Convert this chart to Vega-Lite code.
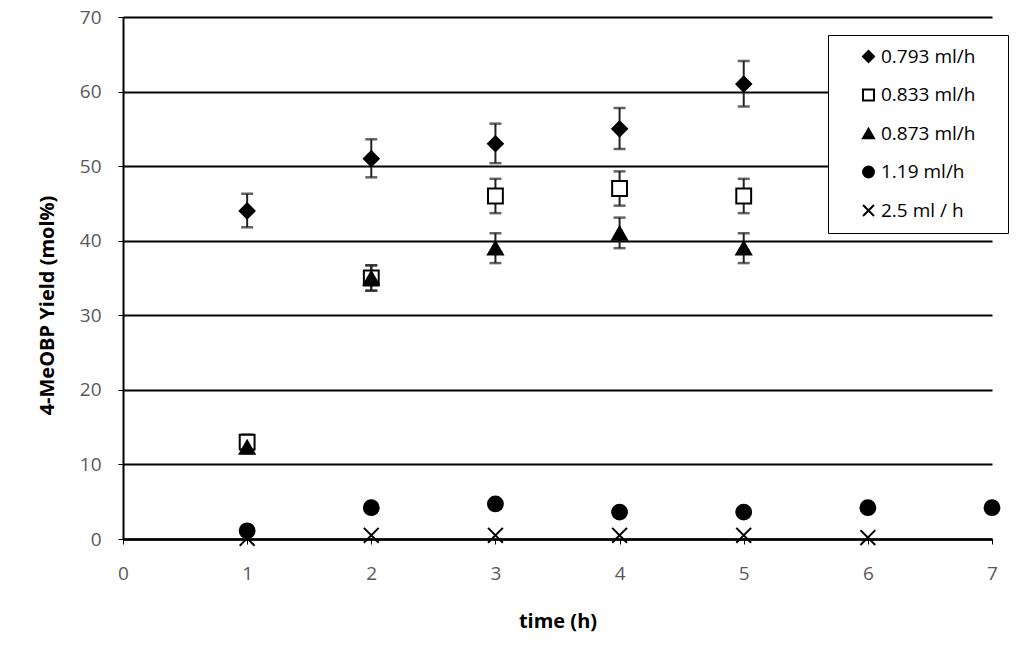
{
  "$schema": "https://vega.github.io/schema/vega-lite/v6.json",
  "autosize": {"type": "none"},
  "width": 869,
  "height": 522,
  "padding": {"left": 123, "top": 17, "right": 32, "bottom": 128},
  "background": "white",
  "config": {
    "view": {"stroke": null},
    "font": "Open Sans",
    "axis": {"labelFont": "Open Sans", "titleFont": "Open Sans"}
  },
  "data": {
    "values": [
      {"series": "0.793 ml/h", "t": 1, "y": 44, "lo": 41.8, "hi": 46.3},
      {"series": "0.793 ml/h", "t": 2, "y": 51, "lo": 48.5, "hi": 53.6},
      {"series": "0.793 ml/h", "t": 3, "y": 53, "lo": 50.4, "hi": 55.7},
      {"series": "0.793 ml/h", "t": 4, "y": 55, "lo": 52.3, "hi": 57.8},
      {"series": "0.793 ml/h", "t": 5, "y": 61, "lo": 58.0, "hi": 64.1},
      {"series": "0.833 ml/h", "t": 1, "y": 13, "lo": 12.0, "hi": 14.0},
      {"series": "0.833 ml/h", "t": 2, "y": 35, "lo": 33.3, "hi": 36.7},
      {"series": "0.833 ml/h", "t": 3, "y": 46, "lo": 43.7, "hi": 48.3},
      {"series": "0.833 ml/h", "t": 4, "y": 47, "lo": 44.7, "hi": 49.3},
      {"series": "0.833 ml/h", "t": 5, "y": 46, "lo": 43.7, "hi": 48.3},
      {"series": "0.873 ml/h", "t": 1, "y": 12.3, "lo": 11.5, "hi": 13.1},
      {"series": "0.873 ml/h", "t": 2, "y": 35, "lo": 33.3, "hi": 36.7},
      {"series": "0.873 ml/h", "t": 3, "y": 39, "lo": 37.0, "hi": 41.0},
      {"series": "0.873 ml/h", "t": 4, "y": 41, "lo": 39.0, "hi": 43.1},
      {"series": "0.873 ml/h", "t": 5, "y": 39, "lo": 37.0, "hi": 41.0},
      {"series": "1.19 ml/h", "t": 1, "y": 1.1},
      {"series": "1.19 ml/h", "t": 2, "y": 4.2},
      {"series": "1.19 ml/h", "t": 3, "y": 4.7},
      {"series": "1.19 ml/h", "t": 4, "y": 3.6},
      {"series": "1.19 ml/h", "t": 5, "y": 3.6},
      {"series": "1.19 ml/h", "t": 6, "y": 4.2},
      {"series": "1.19 ml/h", "t": 7, "y": 4.2},
      {"series": "2.5 ml / h", "t": 1, "y": 0.1},
      {"series": "2.5 ml / h", "t": 2, "y": 0.5},
      {"series": "2.5 ml / h", "t": 3, "y": 0.5},
      {"series": "2.5 ml / h", "t": 4, "y": 0.5},
      {"series": "2.5 ml / h", "t": 5, "y": 0.5},
      {"series": "2.5 ml / h", "t": 6, "y": 0.2}
    ]
  },
  "layer": [
    {
      "transform": [{"filter": "datum.lo != null"}],
      "mark": {"type": "rule", "color": "#222", "strokeWidth": 2},
      "encoding": {
        "x": {"field": "t", "type": "quantitative"},
        "y": {"field": "lo", "type": "quantitative"},
        "y2": {"field": "hi"}
      }
    },
    {
      "transform": [{"filter": "datum.lo != null"}],
      "mark": {"type": "tick", "orient": "horizontal", "color": "#222", "size": 12, "thickness": 2.5},
      "encoding": {
        "x": {"field": "t", "type": "quantitative"},
        "y": {"field": "lo", "type": "quantitative"}
      }
    },
    {
      "transform": [{"filter": "datum.lo != null"}],
      "mark": {"type": "tick", "orient": "horizontal", "color": "#222", "size": 12, "thickness": 2.5},
      "encoding": {
        "x": {"field": "t", "type": "quantitative"},
        "y": {"field": "hi", "type": "quantitative"}
      }
    },
    {
      "mark": {"type": "point", "filled": false, "stroke": "black", "strokeWidth": 2, "opacity": 1, "size": 220},
      "encoding": {
        "x": {
          "field": "t", "type": "quantitative",
          "scale": {"domain": [0, 7], "nice": false, "zero": false},
          "axis": {
            "title": "time (h)", "values": [0, 1, 2, 3, 4, 5, 6, 7], "format": "d",
            "grid": false, "domainColor": "black", "domainWidth": 2.5,
            "tickColor": "black", "tickSize": 5, "tickWidth": 1,
            "labelColor": "#595959", "labelFontSize": 19, "labelPadding": 20, "labelFlush": false,
            "titleColor": "black", "titleFontSize": 20, "titleFontWeight": "bold", "titlePadding": 28
          }
        },
        "y": {
          "field": "y", "type": "quantitative",
          "scale": {"domain": [0, 70], "nice": false},
          "axis": {
            "title": "4-MeOBP Yield (mol%)", "values": [0, 10, 20, 30, 40, 50, 60, 70],
            "grid": true, "gridColor": "black", "gridWidth": 2, "gridOpacity": 1,
            "domainColor": "black", "domainWidth": 2,
            "tickColor": "black", "tickSize": 5, "tickWidth": 1,
            "labelColor": "#595959", "labelFontSize": 19, "labelPadding": 17, "labelFlush": false,
            "titleColor": "black", "titleFontSize": 20, "titleFontWeight": "bold", "titlePadding": 22,
            "titleY": 288
          }
        },
        "shape": {
          "field": "series", "type": "nominal",
          "scale": {
            "domain": ["0.793 ml/h", "0.833 ml/h", "0.873 ml/h", "1.19 ml/h", "2.5 ml / h"],
            "range": ["diamond", "square", "triangle-up", "circle", "M-1,-1L1,1M1,-1L-1,1"]
          },
          "legend": {
            "title": null, "orient": "none", "legendX": 705, "legendY": 18,
            "strokeColor": "black", "fillColor": "white",
            "padding": 12, "rowPadding": 18.5, "symbolSize": 120, "symbolStrokeWidth": 2,
            "symbolOffset": 19, "labelOffset": 3,
            "labelFont": "Open Sans", "labelFontSize": 19, "labelColor": "black", "labelLimit": 250,
            "labelExpr": "datum.label + '\u00a0\u00a0\u00a0\u00a0\u200b'",
            "encode": {"legend": {"update": {"strokeWidth": {"value": 2.5}}}}
          }
        },
        "fill": {
          "field": "series", "type": "nominal",
          "scale": {
            "domain": ["0.793 ml/h", "0.833 ml/h", "0.873 ml/h", "1.19 ml/h", "2.5 ml / h"],
            "range": ["black", "white", "black", "black", "transparent"]
          },
          "legend": {
            "title": null, "orient": "none", "legendX": 705, "legendY": 18
          }
        }
      }
    }
  ]
}
